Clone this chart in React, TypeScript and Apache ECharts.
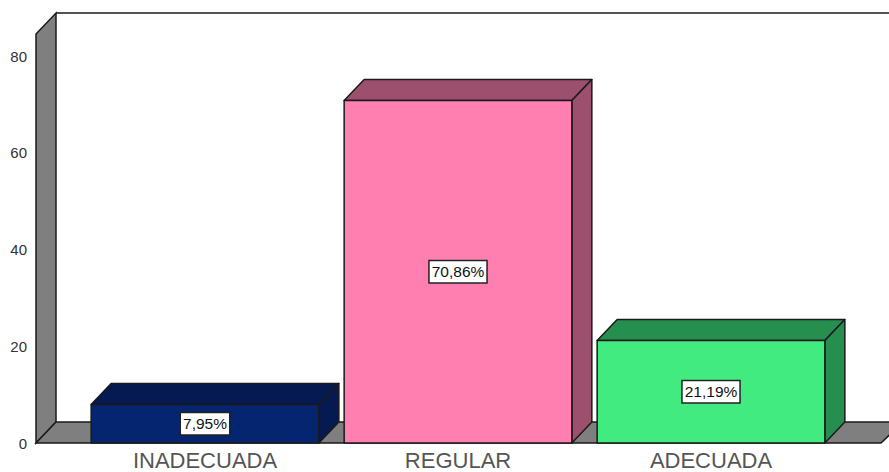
import React, { useEffect, useRef } from "react";
import * as echarts from "echarts";

const categories = ["INADECUADA", "REGULAR", "ADECUADA"];
const percentages = [7.95, 70.86, 21.19];
const yTicks = [0, 20, 40, 60, 80];

const Y_MAX = 84.6;
const DX = 20;
const DY = 21;
const PAINT = {
  front: ["#052570", "#ff80b0", "#42eb80"],
  side: ["#041a50", "#9c506e", "#268f50"],
  wall: "#7f7f7f",
  line: "#1a1a1a",
};
const WALL_LEFT = 36;
const FLOOR_RIGHT = 881;

const fmt = (v: number) => v.toFixed(2).replace(".", ",") + "%";

const renderFrame = (_p: any, api: any) => {
  const y0 = api.coord([0, 0])[1];
  const yT = api.coord([0, Y_MAX])[1];
  const s = { stroke: PAINT.line, lineWidth: 1.5 };
  const L = WALL_LEFT;
  const R = FLOOR_RIGHT;
  return {
    type: "group",
    children: [
      { type: "polygon", shape: { points: [[L, yT], [L + DX, yT - DY], [L + DX, y0 - DY], [L, y0]] }, style: { fill: PAINT.wall, ...s } },
      { type: "polygon", shape: { points: [[L, y0], [L + DX, y0 - DY], [R + DX + 2, y0 - DY], [R, y0]] }, style: { fill: PAINT.wall, ...s } },
      { type: "line", shape: { x1: L + DX, y1: yT - DY, x2: 889, y2: yT - DY }, style: s },
    ],
  };
};

const renderBar = (p: any, api: any) => {
  const i = api.value(0);
  const v = api.value(1);
  const [cx, yTop] = api.coord([i, v]);
  const y0 = api.coord([i, 0])[1];
  const w = api.size([1, 0])[0] * 0.9;
  const l = cx - w / 2;
  const r = cx + w / 2;
  const s = { stroke: PAINT.line, lineWidth: 1.5, lineJoin: "round" };
  return {
    type: "group",
    children: [
      { type: "polygon", shape: { points: [[l, yTop], [l + DX, yTop - DY], [r + DX, yTop - DY], [r, yTop]] }, style: { fill: PAINT.side[p.dataIndex], ...s } },
      { type: "polygon", shape: { points: [[r, yTop], [r + DX, yTop - DY], [r + DX, y0 - DY], [r, y0]] }, style: { fill: PAINT.side[p.dataIndex], ...s } },
      { type: "rect", shape: { x: l, y: yTop, width: w, height: y0 - yTop }, style: { fill: PAINT.front[p.dataIndex], ...s } },
      {
        type: "text",
        x: cx,
        y: (yTop + y0) / 2,
        z2: 10,
        style: {
          text: fmt(v),
          align: "center",
          verticalAlign: "middle",
          fill: "#111",
          font: '15.5px "Liberation Sans"',
          backgroundColor: "#fff",
          borderColor: "#222",
          borderWidth: 1.5,
          padding: [3, 2, 2, 2],
        },
      },
    ],
  };
};

export default function App() {
  const ref = useRef<HTMLDivElement>(null);
  useEffect(() => {
    const chart = echarts.init(ref.current!, null, { renderer: "svg" });
    chart.setOption({
      animation: false,
      backgroundColor: "#fff",
      grid: { left: 78.5, width: 759, top: 34, bottom: 29, containLabel: false, outerBoundsMode: "none" },
      xAxis: {
        type: "category",
        data: categories,
        axisLine: { show: false },
        axisTick: { show: false },
        axisLabel: { color: "#555", fontFamily: "Liberation Sans", fontSize: 22, lineHeight: 16, margin: 9.7, interval: 0 },
      },
      yAxis: {
        type: "value",
        min: 0,
        max: Y_MAX,
        offset: 42.5,
        splitLine: { show: false },
        axisLine: { show: false },
        axisTick: { show: false },
        axisLabel: {
          customValues: yTicks,
          color: "#333",
          fontFamily: "Liberation Sans",
          fontSize: 15,
          margin: 9,
        },
      },
      series: [
        { type: "custom", silent: true, renderItem: renderFrame, data: [[0, 0]], encode: { x: 0, y: 1 }, z: 1 },
        {
          type: "custom",
          renderItem: renderBar,
          data: percentages.map((v, i) => [i, v]),
          encode: { x: 0, y: 1 },
          z: 2,
        },
      ],
    });
    return () => chart.dispose();
  }, []);
  return <div ref={ref} style={{ position: "absolute", left: 0, top: 0, width: 889, height: 472 }} />;
}
